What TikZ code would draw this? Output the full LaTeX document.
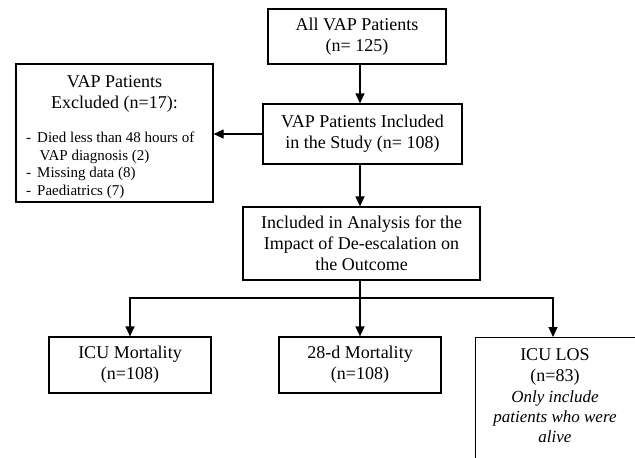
\documentclass[tikz,border=0pt]{standalone}
\usepackage{fontspec}
\setmainfont{Liberation Serif}
\usetikzlibrary{arrows.meta}
\begin{document}
\begin{tikzpicture}[x=1pt,y=-1pt,
  box/.style={draw, line width=1.2pt, inner sep=0pt, align=center,
    font=\fontsize{18}{21}\selectfont},
  txt/.style={inner sep=0pt, align=center, font=\fontsize{18}{21}\selectfont},
  arr/.style={line width=1.2pt, -{Triangle[length=10pt,width=9pt]}},
  ln/.style={line width=1.2pt}]
\useasboundingbox (0,0) rectangle (635,458);
\fill[white] (0,0) rectangle (635,458);
\coordinate (ax) at (360,0);
\coordinate (lx) at (553,0);
\coordinate (br) at (360,298);
\node[box, minimum width=178, minimum height=55] (all) at (357,36.5) {All VAP Patients\\(n= 125)};
\node[box, minimum width=199, minimum height=60] (incl) at (362.5,134) {VAP Patients Included\\in the Study (n= 108)};
\node[box, minimum width=197, minimum height=138] (excl) at (114.5,133) {};
\node[txt] (exclt) at (114.5,94) {VAP Patients\\Excluded (n=17):};
\node[inner sep=0pt, anchor=north west, align=left, font=\fontsize{15}{17.5}\selectfont] (exclb) at (26,132)
  {-\hspace{6pt}Died less than 48 hours of\\\hspace{13.5pt}VAP diagnosis (2)\\-\hspace{6pt}Missing data (8)\\-\hspace{6pt}Paediatrics (7)};
\node[box, minimum width=237, minimum height=73] (anal) at (361.5,243.5) {Included in Analysis for the\\Impact of De-escalation on\\the Outcome};
\node[box, minimum width=162, minimum height=56] (icu) at (130,365) {ICU Mortality\\(n=108)};
\node[box, minimum width=162, minimum height=56] (d28) at (360,365) {28-d Mortality\\(n=108)};
\begin{scope}
\clip (0,0) rectangle (635,458);
\node[box, anchor=north west, minimum width=180, minimum height=150] (los) at (475,337) {};
\end{scope}
\node[txt] (lost) at (555,367) {ICU LOS\\(n=83)};
\node[inner sep=0pt, align=center, font=\fontsize{17}{20}\itshape\selectfont] (losi) at (555,417) {Only include\\patients who were\\alive};
\draw[arr] (all.south -| ax) -- (incl.north -| ax);
\draw[arr] (incl.south -| ax) -- (anal.north -| ax);
\draw[arr] (incl.west) -- (excl.east |- incl.west);
\draw[ln] (anal.south -| ax) -- (br);
\draw[arr] (br) -- (d28.north);
\draw[arr] (br) -| (icu.north);
\draw[arr] (br) -| (los.north -| lx);
\end{tikzpicture}
\end{document}
